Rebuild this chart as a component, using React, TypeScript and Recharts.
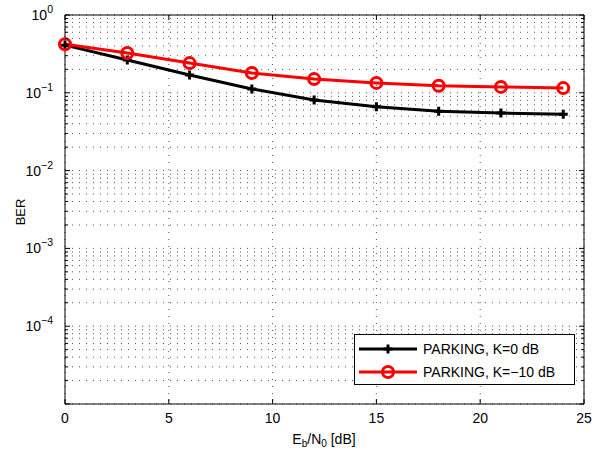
import { LineChart, Line, XAxis, YAxis, CartesianGrid, Legend } from 'recharts';

const ebN0 = [0, 3, 6, 9, 12, 15, 18, 21, 24];
const berK0 = [0.41, 0.264, 0.169, 0.112, 0.081, 0.066, 0.058, 0.055, 0.053];
const berKm10 = [0.42, 0.325, 0.241, 0.18, 0.15, 0.134, 0.123, 0.119, 0.115];
const xTicks = [0, 5, 10, 15, 20, 25];
const decades = [-5, -4, -3, -2, -1, 0];
const labeledDecades = [-4, -3, -2, -1, 0];

const seriesNames = ['PARKING, K=0 dB', 'PARKING, K=\u221210 dB'];

const data = ebN0.map((x, i) => ({ x, k0: berK0[i], km10: berKm10[i] }));

// every 1..9 x 10^k between 1e-5 and 1 (log grid)
const logTicks: number[] = [];
decades.forEach(d => {
  if (d === 0) {
    logTicks.push(1);
    return;
  }
  for (let m = 1; m <= 9; m++) logTicks.push(Number((m * Math.pow(10, d)).toPrecision(3)));
});

const FONT = '"Liberation Sans", Arial, sans-serif';
const W = 594;
const H = 453;

const isDecade = (v: number) => Math.abs(Math.log10(v) - Math.round(Math.log10(v))) < 1e-6;

const LeftTick = (props: any) => {
  const { x, y, payload } = props;
  const v = payload.value as number;
  const major = isDecade(v);
  const exp = Math.round(Math.log10(v));
  return (
    <g>
      <line x1={x} y1={y} x2={x + (major ? 5 : 3)} y2={y} stroke="#000" />
      {major && labeledDecades.includes(exp) && (
        <text x={x - 12} y={y + 5} textAnchor="end" fontFamily={FONT} fontSize={14} fill="#000">
          10
          <tspan dy={-7} fontSize={10.5}>{exp === 0 ? '0' : '\u2212' + Math.abs(exp)}</tspan>
        </text>
      )}
    </g>
  );
};

const RightTick = (props: any) => {
  const { x, y, payload } = props;
  const major = isDecade(payload.value);
  return <line x1={x} y1={y} x2={x - (major ? 5 : 3)} y2={y} stroke="#000" />;
};

const BottomTick = (props: any) => {
  const { x, y, payload } = props;
  return (
    <g>
      <line x1={x} y1={y} x2={x} y2={y - 5} stroke="#000" />
      <text x={x} y={y + 19} textAnchor="middle" fontFamily={FONT} fontSize={14} fill="#000">
        {payload.value}
      </text>
    </g>
  );
};

const TopTick = (props: any) => {
  const { x, y } = props;
  return <line x1={x} y1={y} x2={x} y2={y + 5} stroke="#000" />;
};

const PlusDot = (props: any) => {
  const { cx, cy } = props;
  return (
    <g>
      <line x1={cx - 4.5} y1={cy} x2={cx + 4.5} y2={cy} stroke="#000" strokeWidth={3} />
      <line x1={cx} y1={cy - 4.5} x2={cx} y2={cy + 4.5} stroke="#000" strokeWidth={3} />
    </g>
  );
};

const CircleDot = (props: any) => {
  const { cx, cy } = props;
  return <circle cx={cx} cy={cy} r={5.5} fill="none" stroke="#ff0000" strokeWidth={3} />;
};

const LegendBox = () => (
  <div
    style={{
      width: 219,
      height: 49,
      border: '1px solid #000',
      background: '#fff',
      fontFamily: FONT,
      fontSize: 14,
      position: 'relative',
    }}
  >
    <svg width={219} height={49} style={{ position: 'absolute', left: 0, top: 0 }}>
      <line x1={4} y1={14} x2={62} y2={14} stroke="#000" strokeWidth={3} />
      <PlusDot cx={33} cy={14} />
      <text x={68} y={19} fontFamily={FONT} fontSize={14} fill="#000">{seriesNames[0]}</text>
      <line x1={4} y1={37} x2={62} y2={37} stroke="#ff0000" strokeWidth={3} />
      <CircleDot cx={33} cy={37} />
      <text x={68} y={42} fontFamily={FONT} fontSize={14} fill="#000">{seriesNames[1]}</text>
    </svg>
  </div>
);

export default function App() {
  return (
    <div style={{ position: 'absolute', left: 0, top: 0, width: W, height: H, background: '#fff' }}>
      <LineChart
        width={W}
        height={H}
        data={data}
        margin={{ top: 14, right: 9, bottom: 0, left: 0 }}
      >
        <CartesianGrid
          xAxisId="bottom"
          yAxisId="left"
          stroke="#555"
          strokeDasharray="1 6"
          horizontalValues={logTicks}
          verticalValues={xTicks}
        />
        <XAxis
          dataKey="x"
          type="number"
          domain={[0, 25]}
          ticks={xTicks}
          height={49}
          stroke="#000"
          tickLine={false}
          tickSize={0}
          tickMargin={0}
          tick={<BottomTick />}
          xAxisId="bottom"
        />
        <XAxis
          dataKey="x"
          type="number"
          domain={[0, 25]}
          ticks={xTicks}
          orientation="top"
          height={1}
          stroke="#000"
          tickLine={false}
          tickSize={0}
          tickMargin={0}
          tick={<TopTick />}
          xAxisId="top"
        />
        <YAxis
          type="number"
          scale="log"
          domain={[1e-5, 1]}
          ticks={logTicks}
          interval={0}
          allowDataOverflow
          width={65}
          stroke="#000"
          tickLine={false}
          tickSize={0}
          tickMargin={0}
          tick={<LeftTick />}
          yAxisId="left"
        />
        <YAxis
          type="number"
          scale="log"
          domain={[1e-5, 1]}
          ticks={logTicks}
          interval={0}
          allowDataOverflow
          orientation="right"
          width={1}
          stroke="#000"
          tickLine={false}
          tickSize={0}
          tickMargin={0}
          tick={<RightTick />}
          yAxisId="right"
        />
        <Legend
          layout="horizontal"
          verticalAlign="middle"
          align="center"
          content={<LegendBox />}
          wrapperStyle={{ position: 'absolute', left: 354, top: 334, width: 221, height: 51 }}
        />
        <Line
          xAxisId="bottom"
          yAxisId="left"
          type="linear"
          dataKey="k0"
          name={seriesNames[0]}
          stroke="#000"
          strokeWidth={3}
          dot={<PlusDot />}
          isAnimationActive={false}
        />
        <Line
          xAxisId="bottom"
          yAxisId="left"
          type="linear"
          dataKey="km10"
          name={seriesNames[1]}
          stroke="#ff0000"
          strokeWidth={3}
          dot={<CircleDot />}
          isAnimationActive={false}
        />
      </LineChart>
      <div
        style={{
          position: 'absolute',
          left: 20,
          top: 212,
          transform: 'translate(-50%, -50%) rotate(-90deg)',
          fontFamily: FONT,
          fontSize: 13,
          whiteSpace: 'nowrap',
        }}
      >
        BER
      </div>
      <div
        style={{
          position: 'absolute',
          left: 324,
          top: 440,
          transform: 'translate(-50%, -50%)',
          fontFamily: FONT,
          fontSize: 14,
          whiteSpace: 'nowrap',
        }}
      >
        E<sub style={{ fontSize: 10 }}>b</sub>/N<sub style={{ fontSize: 10 }}>0</sub> [dB]
      </div>
    </div>
  );
}
